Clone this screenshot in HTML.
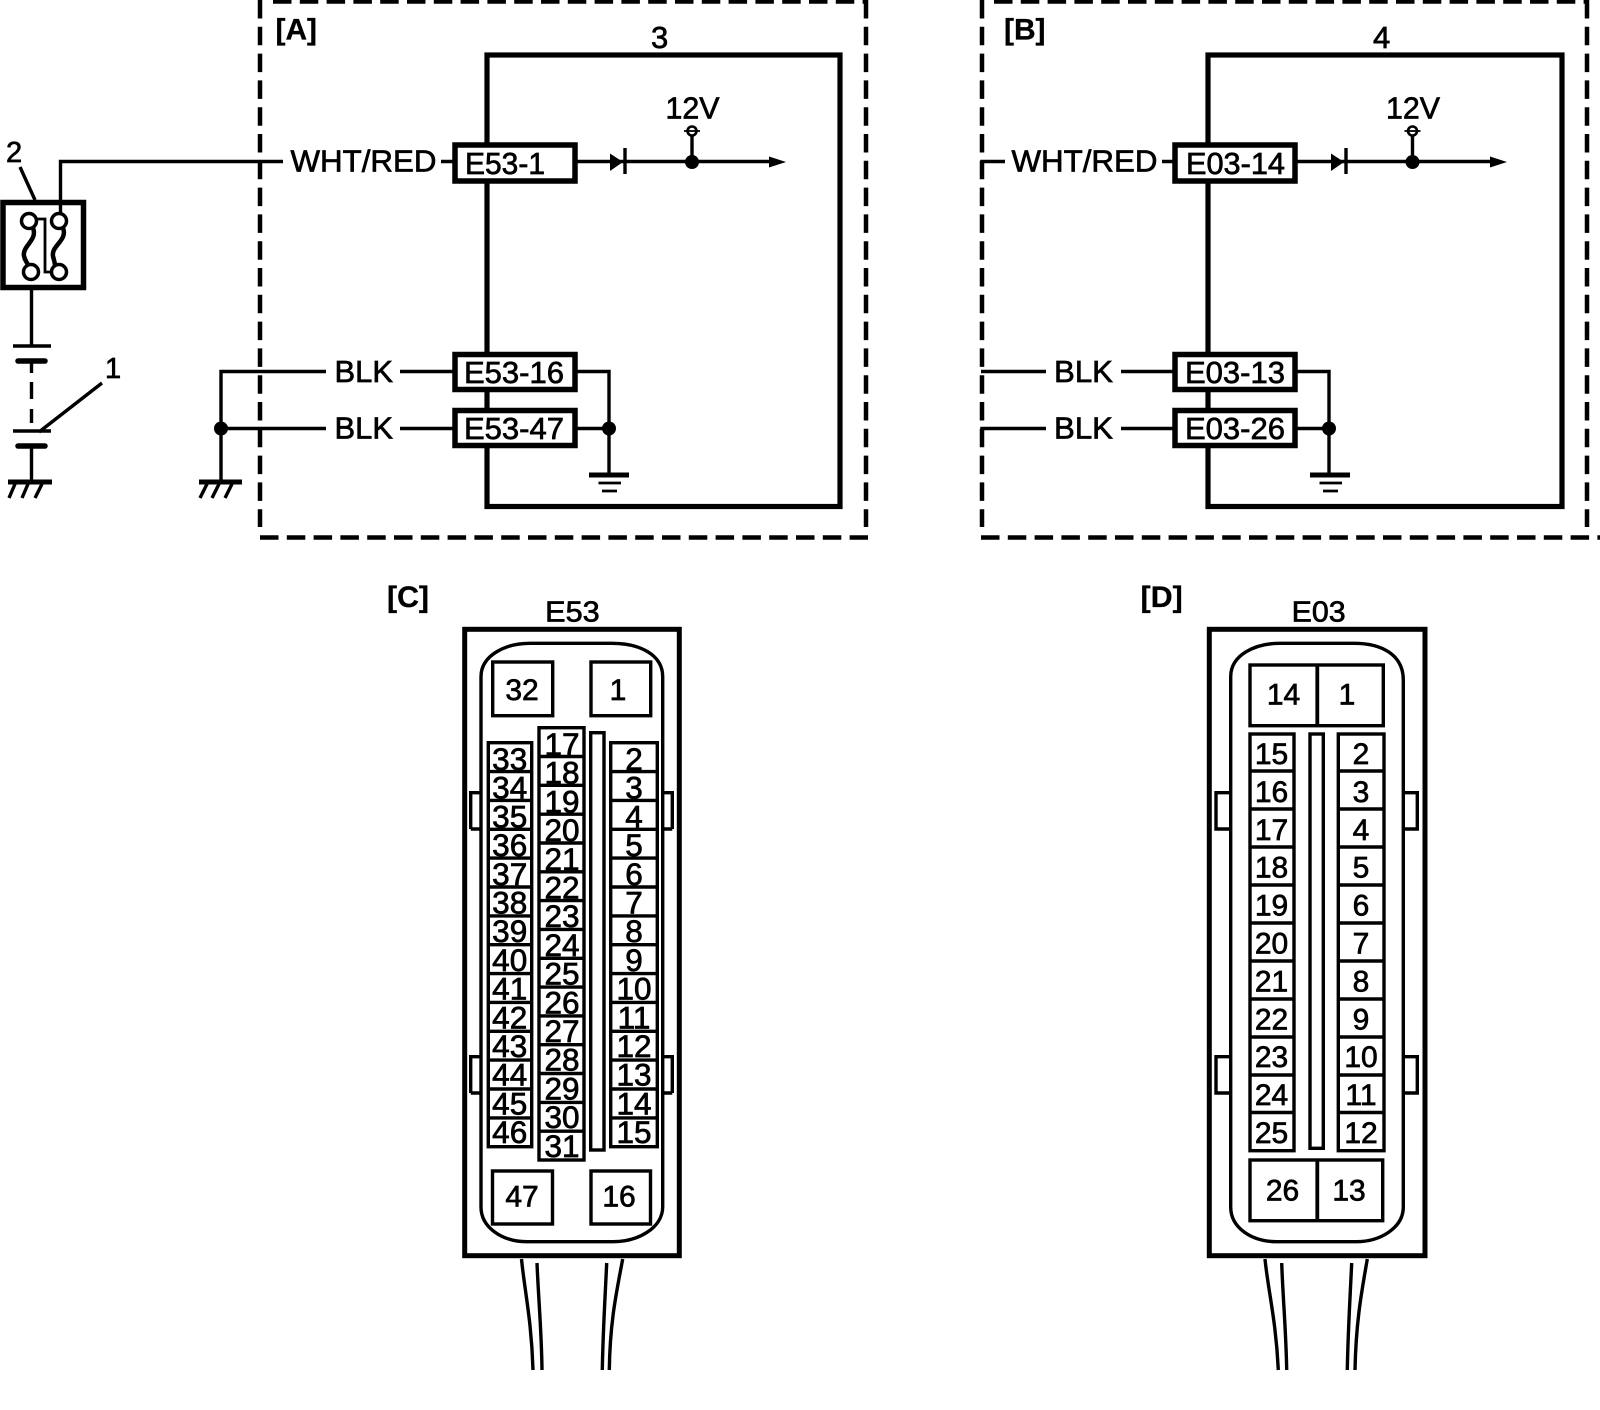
<!DOCTYPE html>
<html><head><meta charset="utf-8"><style>
html,body{margin:0;padding:0;background:#fff}
svg{display:block}
text{font-family:"Liberation Sans",Arial,sans-serif;fill:#000;stroke:#000;stroke-width:.7}
.l{font-size:31px}
.b{font-size:30px;font-weight:bold;stroke-width:.3}
.p{font-size:31.5px;text-anchor:middle;stroke-width:.75}
.q{font-size:30px;text-anchor:middle}
.w{fill:none;stroke:#000;stroke-width:3.4}
.t{fill:#fff;stroke:#000;stroke-width:5.5}
.n{fill:#fff;stroke:#000;stroke-width:3.4}
.d{fill:none;stroke:#000;stroke-width:4.5;stroke-dasharray:18.5 8.3}
</style></head><body>
<svg xmlns="http://www.w3.org/2000/svg" width="1600" height="1410" viewBox="0 0 1600 1410">
<rect width="1600" height="1410" fill="#fff"/>

<!-- dashed frames -->
<path class="d" d="M260 0V527M866 0V527M260 537.5H868M273 1.5H866"/>
<path class="d" d="M982 0V527M1587 0V527M981 537.5H1600M994 1.5H1587"/>

<!-- fuse box -->
<path class="w" d="M60.5 213V161.5H283M20 167L35 200"/>
<rect x="3" y="202.5" width="80.5" height="85" fill="none" stroke="#000" stroke-width="5.5"/>
<circle cx="29" cy="221" r="7.5" fill="#fff" stroke="#000" stroke-width="3.5"/>
<circle cx="59" cy="221" r="7.5" fill="#fff" stroke="#000" stroke-width="3.5"/>
<circle cx="31" cy="272" r="7.5" fill="#fff" stroke="#000" stroke-width="3.5"/>
<circle cx="59" cy="272" r="7.5" fill="#fff" stroke="#000" stroke-width="3.5"/>
<path d="M33 228C38 240 22 246 24 256C25 261 27 262 28 265M63 228C68 240 51 246 53 256C54 261 55 262 55 266" fill="none" stroke="#000" stroke-width="4.5"/>
<path d="M36 219H45V272H52" fill="none" stroke="#000" stroke-width="2.8"/>

<!-- battery + switch -->
<path class="w" d="M31.5 287V346M13 346H51M31.5 361V373M13 431H51M31.5 446V482M39 432L102 383"/>
<path class="w" d="M31.5 382V399M31.5 409V423"/>
<path d="M18 361H45M18 446H45" stroke="#000" stroke-width="5.5" stroke-linecap="round" fill="none"/>
<path d="M8 482H52" stroke="#000" stroke-width="5" fill="none"/>
<path d="M15 484L9 498M28 484L22 498M42 484L35 498" stroke="#000" stroke-width="3.4" fill="none"/>

<!-- left ground -->
<path class="w" d="M221 482V371.5H326M221 428.5H326"/>
<circle cx="221" cy="428.5" r="7"/>
<path d="M199 482H242" stroke="#000" stroke-width="5" fill="none"/>
<path d="M207 484L200 498M219 484L212 498M232 484L225 498" stroke="#000" stroke-width="3.4" fill="none"/>

<text class="l" x="6" y="162" style="font-size:29px">2</text>
<text class="l" x="105" y="378" style="font-size:29px">1</text>

<!-- ECU A -->
<rect x="487" y="55" width="353" height="451.5" fill="none" stroke="#000" stroke-width="5.2"/>
<path class="w" d="M441 161.5H453M400 371.5H453M400 428.5H453M576 161.5H769M576 371.5H609V475M576 428.5H609M692 162V134"/>
<rect class="t" x="455" y="145" width="120" height="36"/>
<rect class="t" x="455" y="354.5" width="120" height="35"/>
<rect class="t" x="455" y="410.5" width="120" height="35"/>
<path d="M610 153.5L623 162L610 171Z"/><path d="M625 148V174" stroke="#000" stroke-width="3.4"/>
<circle cx="692" cy="162" r="7"/><circle cx="692" cy="131" r="4.5" fill="#fff" stroke="#000" stroke-width="2.6"/>
<path d="M684 131H700" stroke="#000" stroke-width="1.8"/>
<path d="M769 156.5L786 162L769 167.5Z"/>
<circle cx="609" cy="428.5" r="7"/>
<path d="M589 475H629" stroke="#000" stroke-width="5"/><path d="M598.5 483H621M602 491H617" stroke="#000" stroke-width="2.8"/>
<text class="b" x="275.5" y="39.5" textLength="41.5" lengthAdjust="spacingAndGlyphs">[A]</text>
<text class="l" x="651" y="48">3</text>
<text class="l" x="665.5" y="118.5" textLength="54" lengthAdjust="spacingAndGlyphs">12V</text>
<text class="l" x="290.5" y="171.5" textLength="146" lengthAdjust="spacingAndGlyphs">WHT/RED</text>
<text class="l" x="465" y="174" textLength="80" lengthAdjust="spacingAndGlyphs">E53-1</text>
<text class="l" x="334.5" y="382" textLength="58.5" lengthAdjust="spacingAndGlyphs">BLK</text>
<text class="l" x="334.5" y="438.5" textLength="58.5" lengthAdjust="spacingAndGlyphs">BLK</text>
<text class="l" x="464" y="383" textLength="100" lengthAdjust="spacingAndGlyphs">E53-16</text>
<text class="l" x="464" y="439" textLength="100" lengthAdjust="spacingAndGlyphs">E53-47</text>

<!-- ECU B -->
<rect x="1208" y="55" width="354" height="451.5" fill="none" stroke="#000" stroke-width="5.2"/>
<path class="w" d="M982 170V161.5H1005M981 371.5H1046M982 437V428.5H1046"/>
<path class="w" d="M1162 161.5H1174M1121 371.5H1174M1121 428.5H1174M1297 161.5H1490M1297 371.5H1329V475M1297 428.5H1329M1412.5 162V134"/>
<rect class="t" x="1175" y="145" width="120" height="36"/>
<rect class="t" x="1175" y="354.5" width="120" height="35"/>
<rect class="t" x="1175" y="410.5" width="120" height="35"/>
<path d="M1331 153.5L1344 162L1331 171Z"/><path d="M1346 148V174" stroke="#000" stroke-width="3.4"/>
<circle cx="1412.5" cy="162" r="7"/><circle cx="1412.5" cy="131" r="4.5" fill="#fff" stroke="#000" stroke-width="2.6"/>
<path d="M1404.5 131H1420.5" stroke="#000" stroke-width="1.8"/>
<path d="M1490 156.5L1507 162L1490 167.5Z"/>
<circle cx="1329" cy="428.5" r="7"/>
<path d="M1310 475H1350" stroke="#000" stroke-width="5"/><path d="M1319.5 483H1342M1323 491H1338" stroke="#000" stroke-width="2.8"/>
<text class="b" x="1004" y="39.5" textLength="41.5" lengthAdjust="spacingAndGlyphs">[B]</text>
<text class="l" x="1373" y="48">4</text>
<text class="l" x="1386" y="118.5" textLength="54" lengthAdjust="spacingAndGlyphs">12V</text>
<text class="l" x="1011.5" y="171.5" textLength="146" lengthAdjust="spacingAndGlyphs">WHT/RED</text>
<text class="l" x="1186" y="174" textLength="99" lengthAdjust="spacingAndGlyphs">E03-14</text>
<text class="l" x="1054" y="382" textLength="59" lengthAdjust="spacingAndGlyphs">BLK</text>
<text class="l" x="1054" y="438.5" textLength="59" lengthAdjust="spacingAndGlyphs">BLK</text>
<text class="l" x="1185" y="383" textLength="100" lengthAdjust="spacingAndGlyphs">E03-13</text>
<text class="l" x="1185" y="439" textLength="100" lengthAdjust="spacingAndGlyphs">E03-26</text>

<!-- CONNECTOR C -->
<text class="b" x="387" y="607" textLength="42" lengthAdjust="spacingAndGlyphs">[C]</text>
<text class="l" x="545.2" y="621.5" textLength="54.5" lengthAdjust="spacingAndGlyphs" style="font-size:29px">E53</text>
<rect x="464.7" y="629.3" width="214.6" height="626.4" fill="none" stroke="#000" stroke-width="5"/>
<path class="w" d="M470.7 829V792.7H481M672.3 829V792.7H662.7M470.7 829H481M672.3 829H662.7M470.7 1093V1056.7H481M672.3 1093V1056.7H662.7M470.7 1093H481M672.3 1093H662.7"/>
<path class="w" d="M481 676.7C481 655 506 643.3 530 643.3H612C640 643.3 662.7 655 662.7 676.7V1206.7C662.7 1228 638 1241.7 613 1241.7H527C503 1241.7 481 1228 481 1207Z"/>
<rect class="n" x="492.7" y="662" width="60" height="53.7"/>
<rect class="n" x="591" y="662" width="59.7" height="53.7"/>
<rect class="n" x="492.5" y="1171" width="60" height="53"/>
<rect class="n" x="591" y="1171" width="59.5" height="53"/>
<rect class="n" x="488.3" y="742.7" width="43.4" height="404"/>
<rect class="n" x="539" y="727.7" width="45" height="432.3"/>
<rect class="n" x="590.7" y="732.7" width="13.3" height="417.3"/>
<rect class="n" x="610.7" y="742.7" width="46.6" height="404"/>
<path class="w" d="M488 771.6H532M488 800.4H532M488 829.3H532M488 858.1H532M488 887H532M488 915.9H532M488 944.7H532M488 973.6H532M488 1002.4H532M488 1031.3H532M488 1060.1H532M488 1089H532M488 1117.9H532"/>
<path class="w" d="M610 771.6H657M610 800.4H657M610 829.3H657M610 858.1H657M610 887H657M610 915.9H657M610 944.7H657M610 973.6H657M610 1002.4H657M610 1031.3H657M610 1060.1H657M610 1089H657M610 1117.9H657"/>
<path class="w" d="M539 756.5H584M539 785.3H584M539 814.2H584M539 843H584M539 871.8H584M539 900.6H584M539 929.4H584M539 958.3H584M539 987.1H584M539 1015.9H584M539 1044.7H584M539 1073.5H584M539 1102.4H584M539 1131.2H584"/>
<path class="w" d="M521.5 1259C524.5 1290 531.5 1320 533 1370M537 1263C538.5 1300 541.5 1330 542 1370M606.7 1263C605 1300 603 1330 602.3 1370M622.7 1259C617 1290 610 1320 609.3 1370"/>
<g>
<text class="q" x="522" y="700">32</text><text class="q" x="618" y="700">1</text>
<text class="q" x="522" y="1206.7">47</text><text class="q" x="619" y="1206.7">16</text>
<text class="p" x="509.7" y="770">33</text><text class="p" x="509.7" y="798.7">34</text><text class="p" x="509.7" y="827.4">35</text><text class="p" x="509.7" y="856.1">36</text><text class="p" x="509.7" y="884.8">37</text><text class="p" x="509.7" y="913.5">38</text><text class="p" x="509.7" y="942.2">39</text><text class="p" x="509.7" y="970.9">40</text><text class="p" x="509.7" y="999.6">41</text><text class="p" x="509.7" y="1028.3">42</text><text class="p" x="509.7" y="1057">43</text><text class="p" x="509.7" y="1085.7">44</text><text class="p" x="509.7" y="1114.4">45</text><text class="p" x="509.7" y="1143.1">46</text>
<text class="p" x="562" y="755">17</text><text class="p" x="562" y="783.7">18</text><text class="p" x="562" y="812.4">19</text><text class="p" x="562" y="841.1">20</text><text class="p" x="562" y="869.8">21</text><text class="p" x="562" y="898.5">22</text><text class="p" x="562" y="927.2">23</text><text class="p" x="562" y="955.9">24</text><text class="p" x="562" y="984.6">25</text><text class="p" x="562" y="1013.3">26</text><text class="p" x="562" y="1042">27</text><text class="p" x="562" y="1070.7">28</text><text class="p" x="562" y="1099.4">29</text><text class="p" x="562" y="1128.1">30</text><text class="p" x="562" y="1156.8">31</text>
<text class="p" x="634" y="770">2</text><text class="p" x="634" y="798.7">3</text><text class="p" x="634" y="827.4">4</text><text class="p" x="634" y="856.1">5</text><text class="p" x="634" y="884.8">6</text><text class="p" x="634" y="913.5">7</text><text class="p" x="634" y="942.2">8</text><text class="p" x="634" y="970.9">9</text><text class="p" x="634" y="999.6">10</text><text class="p" x="634" y="1028.3">11</text><text class="p" x="634" y="1057">12</text><text class="p" x="634" y="1085.7">13</text><text class="p" x="634" y="1114.4">14</text><text class="p" x="634" y="1143.1">15</text>
</g>

<!-- CONNECTOR D -->
<text class="b" x="1140.7" y="607" textLength="42" lengthAdjust="spacingAndGlyphs">[D]</text>
<text class="l" x="1291.7" y="621.5" textLength="54" lengthAdjust="spacingAndGlyphs" style="font-size:29px">E03</text>
<rect x="1209.3" y="629.3" width="215.7" height="626.4" fill="none" stroke="#000" stroke-width="5"/>
<path class="w" d="M1230.7 829H1216V792.7H1230.7M1403.3 829H1417.3V792.7H1403.3M1230.7 1093H1216V1056.7H1230.7M1403.3 1093H1417.3V1056.7H1403.3"/>
<path class="w" d="M1230.7 676.7C1230.7 655 1255 643.3 1280 643.3H1354C1382 643.3 1403.3 655 1403.3 680V1207C1403.3 1228 1380 1241.7 1356 1241.7H1277C1252 1241.7 1230.7 1228 1230.7 1207Z"/>
<rect class="n" x="1250" y="665" width="133.3" height="60.7"/>
<path d="M1317.3 665V725.7" stroke="#000" stroke-width="3.8"/>
<rect class="n" x="1250" y="1160" width="132.7" height="60.7"/>
<path d="M1317.3 1160V1221" stroke="#000" stroke-width="3.8"/>
<rect class="n" x="1250" y="734" width="44" height="416.7"/>
<rect class="n" x="1310" y="734" width="13.3" height="414.3" stroke-width="3.8"/>
<rect class="n" x="1338.3" y="734" width="45.7" height="416.7"/>
<path class="w" d="M1250 771H1294M1250 809H1294M1250 847H1294M1250 885H1294M1250 923H1294M1250 961H1294M1250 999H1294M1250 1037H1294M1250 1075H1294M1250 1112.5H1294"/>
<path class="w" d="M1338 771H1384M1338 809H1384M1338 847H1384M1338 885H1384M1338 923H1384M1338 961H1384M1338 999H1384M1338 1037H1384M1338 1075H1384M1338 1112.5H1384"/>
<path class="w" d="M1265 1259C1268 1290 1276 1320 1278.3 1370M1281.7 1263C1283 1300 1286 1330 1286.7 1370M1351.7 1263C1350 1300 1348 1330 1347.3 1370M1367.3 1259C1362 1290 1356 1320 1355 1370"/>
<g>
<text class="q" x="1283.5" y="704.3">14</text><text class="q" x="1347" y="704.3">1</text>
<text class="q" x="1282.5" y="1200.7">26</text><text class="q" x="1349" y="1200.7">13</text>
<text class="q" x="1271.5" y="764">15</text><text class="q" x="1271.5" y="801.9">16</text><text class="q" x="1271.5" y="839.8">17</text><text class="q" x="1271.5" y="877.7">18</text><text class="q" x="1271.5" y="915.6">19</text><text class="q" x="1271.5" y="953.5">20</text><text class="q" x="1271.5" y="991.4">21</text><text class="q" x="1271.5" y="1029.3">22</text><text class="q" x="1271.5" y="1067.2">23</text><text class="q" x="1271.5" y="1105.1">24</text><text class="q" x="1271.5" y="1143">25</text>
<text class="q" x="1361" y="764">2</text><text class="q" x="1361" y="801.9">3</text><text class="q" x="1361" y="839.8">4</text><text class="q" x="1361" y="877.7">5</text><text class="q" x="1361" y="915.6">6</text><text class="q" x="1361" y="953.5">7</text><text class="q" x="1361" y="991.4">8</text><text class="q" x="1361" y="1029.3">9</text><text class="q" x="1361" y="1067.2">10</text><text class="q" x="1361" y="1105.1">11</text><text class="q" x="1361" y="1143">12</text>
</g>
</svg>
</body></html>
